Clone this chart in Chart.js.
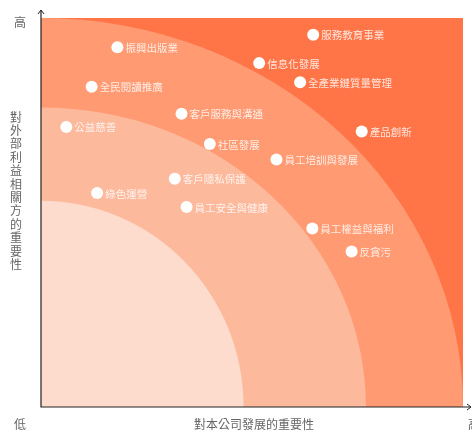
<!DOCTYPE html>
<html>
<head>
<meta charset="utf-8">
<script src="https://cdn.jsdelivr.net/npm/chart.js@4"></script>
<style>
  html, body { margin: 0; padding: 0; background: #fff; }
  #wrap { width: 472px; height: 432px; position: relative; }
</style>
</head>
<body>
<div id="wrap"><canvas id="matrix"></canvas></div>
<script>
  // materiality topics (0-100 on both axes)
  const topics = [
    '振興出版業', '全民閱讀推廣', '公益慈善', '客戶服務與溝通', '社區發展',
    '服務教育事業', '信息化發展', '全產業鏈質量管理', '產品創新',
    '客戶隱私保護', '綠色運營', '員工安全與健康', '員工培訓與發展',
    '員工權益與福利', '反貪污'
  ];
  const companyImportance = [18.1, 12.0, 6.0, 33.3, 40.0, 64.5, 51.7, 61.4, 76.0, 31.7, 13.3, 34.5, 55.8, 64.3, 73.6];
  const stakeholderImportance = [92.5, 82.3, 72.0, 75.4, 67.6, 95.7, 88.4, 83.5, 70.8, 58.7, 55.0, 51.4, 63.6, 45.9, 40.0];

  // background bands: quarter ellipses from the low/low corner
  const bandRadiusX = [100, 77, 48];
  const bandRadiusY = [100, 77, 53];
  const bandColors = ['#ff9a72', '#fdb99c', '#fddccd'];
  const outerColor = '#ff7548';

  const xTitle = '對本公司發展的重要性';
  const yTitle = '對外部利益相關方的重要性';

  const bands = {
    id: 'bands',
    beforeDatasetsDraw(chart) {
      const { ctx, chartArea: a, scales: { x, y } } = chart;
      ctx.save();
      ctx.beginPath();
      ctx.rect(a.left, a.top, a.right - a.left, a.bottom - a.top);
      ctx.clip();
      ctx.fillStyle = outerColor;
      ctx.fillRect(a.left, a.top, a.right - a.left, a.bottom - a.top);
      const cx = x.getPixelForValue(0), cy = y.getPixelForValue(0);
      bandRadiusX.forEach((rx, i) => {
        const px = x.getPixelForValue(rx) - cx;
        const py = cy - y.getPixelForValue(bandRadiusY[i]);
        ctx.beginPath();
        ctx.moveTo(cx, cy);
        ctx.ellipse(cx, cy, px, py, 0, -Math.PI / 2, 0);
        ctx.closePath();
        ctx.fillStyle = bandColors[i];
        ctx.fill();
      });
      ctx.restore();
    },
    afterDatasetsDraw(chart) {
      const { ctx, chartArea: a } = chart;
      const meta = chart.getDatasetMeta(0);
      ctx.save();
      ctx.font = '10.5px "Noto Sans CJK TC", sans-serif';
      ctx.fillStyle = 'rgba(255,255,255,0.82)';
      ctx.textBaseline = 'middle';
      meta.data.forEach((pt, i) => ctx.fillText(topics[i], pt.x + 8, pt.y + 0.5));

      // axes with open arrow heads
      ctx.strokeStyle = '#222';
      ctx.lineWidth = 1.2;
      ctx.beginPath();
      ctx.moveTo(a.left, 10);
      ctx.lineTo(a.left, a.bottom);
      ctx.lineTo(471, a.bottom);
      ctx.stroke();
      ctx.lineWidth = 1;
      ctx.beginPath();
      ctx.moveTo(a.left - 3, 14); ctx.lineTo(a.left, 10); ctx.lineTo(a.left + 3, 14);
      ctx.moveTo(467, a.bottom - 3); ctx.lineTo(471, a.bottom); ctx.lineTo(467, a.bottom + 3);
      ctx.stroke();

      ctx.fillStyle = '#666';
      ctx.font = '12px "Noto Sans CJK TC", sans-serif';
      ctx.textAlign = 'center';
      ctx.fillText('高', 20, 22);
      ctx.fillText('低', 20, 424);
      ctx.fillText('高', 474, 424);
      ctx.fillText(xTitle, 254, 424);
      const chars = [...yTitle];
      chars.forEach((c, i) => ctx.fillText(c, 16, 117 + i * 13.4));
      ctx.restore();
    }
  };

  new Chart(document.getElementById('matrix'), {
    type: 'scatter',
    data: {
      datasets: [{
        data: companyImportance.map((v, i) => ({ x: v, y: stakeholderImportance[i] })),
        backgroundColor: '#ffffff',
        borderWidth: 0,
        pointRadius: 6,
        pointHoverRadius: 6,
      }],
    },
    options: {
      responsive: true,
      maintainAspectRatio: false,
      animation: false,
      layout: { padding: { left: 41, top: 18, right: 9, bottom: 25 } },
      plugins: { legend: { display: false }, tooltip: { enabled: false } },
      scales: {
        x: { min: 0, max: 100, display: false },
        y: { min: 0, max: 100, display: false },
      },
    },
    plugins: [bands],
  });
</script>
</body>
</html>
